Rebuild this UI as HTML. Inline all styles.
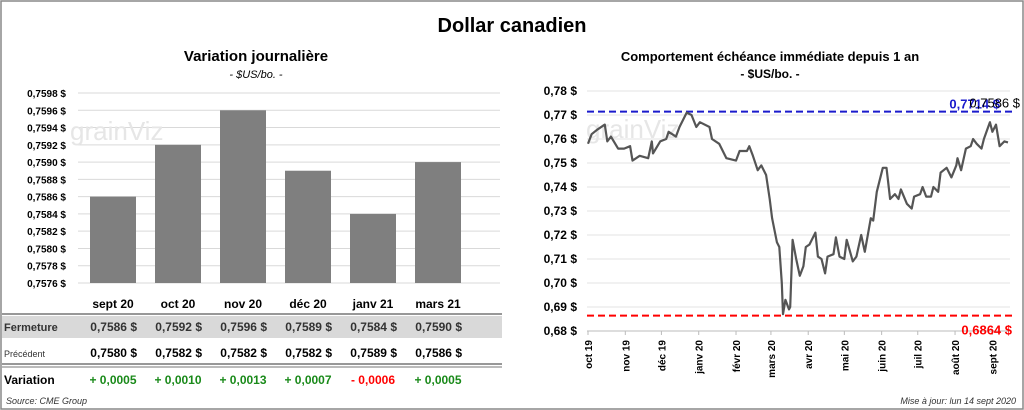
<!DOCTYPE html>
<html><head><meta charset="utf-8"><style>
body{margin:0;width:1024px;height:410px;background:#fff;font-family:"Liberation Sans",sans-serif;overflow:hidden}
svg{position:absolute;left:0;top:0}
</style></head><body>
<svg id="s" width="1024" height="410">
<rect x="1" y="1" width="1022" height="408" fill="#fff" stroke="#888" stroke-width="1.5"/>
<text x="512" y="32" text-anchor="middle" font-size="20" font-weight="bold">Dollar canadien</text>
<text x="256" y="61" text-anchor="middle" font-size="15" font-weight="bold">Variation  journalière</text>
<text x="256" y="78" text-anchor="middle" font-size="11" font-style="italic">- $US/bo. -</text>
<text x="770" y="61" text-anchor="middle" font-size="13" font-weight="bold">Comportement échéance immédiate depuis 1 an</text>
<text x="770" y="78" text-anchor="middle" font-size="12" font-weight="bold">- $US/bo. -</text>
<g id="left"></g><g id="right"></g><g id="table"></g>
<text x="6" y="404" font-size="9" font-style="italic" fill="#333">Source: CME Group</text>
<text x="1016" y="404" text-anchor="end" font-size="9" font-style="italic" fill="#333">Mise à jour: lun 14 sept 2020</text>
</svg>
<script>
const barCats=["sept 20","oct 20","nov 20","déc 20","janv 21","mars 21"];
const closeVals=[0.7586,0.7592,0.7596,0.7589,0.7584,0.7590];
const prevVals=[0.7580,0.7582,0.7582,0.7582,0.7589,0.7586];
const varLabels=["+ 0,0005","+ 0,0010","+ 0,0013","+ 0,0007","- 0,0006","+ 0,0005"];
const leftTicks=[0.7576,0.7578,0.7580,0.7582,0.7584,0.7586,0.7588,0.7590,0.7592,0.7594,0.7596,0.7598];
const lineDays=[0,3,8,14,16,19,25,30,35,37,43,50,53,54,60,65,67,73,76,82,86,90,93,101,103,109,115,123,126,132,134,137,141,144,148,151,153,157,159,161,162,164,167,168,170,173,176,179,181,184,189,191,194,197,199,204,206,209,213,215,220,223,227,230,235,237,240,242,245,248,251,255,258,260,265,269,271,276,278,281,285,287,291,293,298,302,306,307,310,314,318,320,323,327,329,334,336,339,342,346,349];
const lineVals=[0.758,0.762,0.764,0.766,0.759,0.761,0.756,0.756,0.757,0.751,0.753,0.752,0.759,0.754,0.759,0.760,0.763,0.761,0.765,0.771,0.770,0.765,0.767,0.765,0.760,0.758,0.752,0.751,0.755,0.755,0.757,0.753,0.747,0.749,0.745,0.735,0.727,0.717,0.715,0.700,0.687,0.693,0.689,0.690,0.718,0.710,0.703,0.707,0.715,0.716,0.721,0.711,0.710,0.704,0.711,0.712,0.719,0.711,0.710,0.718,0.709,0.711,0.720,0.713,0.727,0.726,0.738,0.742,0.748,0.748,0.735,0.737,0.735,0.739,0.733,0.731,0.736,0.737,0.740,0.736,0.736,0.740,0.738,0.746,0.748,0.744,0.749,0.752,0.747,0.756,0.757,0.760,0.758,0.756,0.760,0.767,0.763,0.766,0.757,0.759,0.7586];
const rightTicks=[0.68,0.69,0.70,0.71,0.72,0.73,0.74,0.75,0.76,0.77,0.78];
const monthLabels=["oct 19","nov 19","déc 19","janv 20","févr 20","mars 20","avr 20","mai 20","juin 20","juil 20","août 20","sept 20"];
const monthDays=[0,31,61,92,123,152,183,213,244,274,305,336];
const maxVal=0.7714, minVal=0.6864, lastVal=0.7586;

const NS="http://www.w3.org/2000/svg";
function mk(p,t,a,txt){const e=document.createElementNS(NS,t);for(const k in a)e.setAttribute(k,a[k]);if(txt!=null)e.textContent=txt;p.appendChild(e);return e;}
const fmt=(v,d)=>v.toFixed(d).replace('.',',');

const L=document.getElementById('left');
const ly=v=>283-(v-0.7576)/0.0022*190;
const lx=i=>113+i*65;
leftTicks.forEach(t=>{
 let g=mk(L,'line',{x1:78,x2:500,y1:ly(t),y2:ly(t),stroke:'#d9d9d9'});
 
 let l=mk(L,'text',{x:66,y:ly(t)+4,'text-anchor':'end','font-size':10,'font-weight':'bold'},fmt(t,4)+' $');
 
});
mk(L,'text',{x:70,y:140,'font-size':26,fill:'#e6e6e6'},'grainViz');
closeVals.forEach((v,i)=>{
 let b=mk(L,'rect',{x:lx(i)-23,y:ly(v),width:46,height:283-ly(v),fill:'#7f7f7f'});
 
});
const T=document.getElementById('table');
mk(T,'rect',{x:2,y:316,width:500,height:22,fill:'#d9d9d9'});
mk(T,'line',{x1:2,x2:502,y1:314,y2:314,stroke:'#777',"stroke-width":1.5});
mk(T,'line',{x1:2,x2:502,y1:364,y2:364,stroke:'#777',"stroke-width":1.5});
mk(T,'line',{x1:2,x2:502,y1:367,y2:367,stroke:'#777',"stroke-width":1});
mk(T,'text',{x:4,y:331,'font-size':11,'font-weight':'bold',fill:'#333'},'Fermeture');
mk(T,'text',{x:4,y:357,'font-size':9,fill:'#333'},'Précédent');
mk(T,'text',{x:4,y:384,'font-size':12,'font-weight':'bold'},'Variation');
barCats.forEach((c,i)=>{
 let h=mk(T,'text',{x:lx(i),y:308,'text-anchor':'middle','font-size':12,'font-weight':'bold'},c);
 
 mk(T,'text',{x:lx(i)+24,y:331,'text-anchor':'end','font-size':12,'font-weight':'bold',fill:'#333'},fmt(closeVals[i],4)+'  $');
 mk(T,'text',{x:lx(i)+24,y:357,'text-anchor':'end','font-size':12,'font-weight':'bold'},fmt(prevVals[i],4)+'  $');
 mk(T,'text',{x:lx(i),y:384,'text-anchor':'middle','font-size':12,'font-weight':'bold',fill:varLabels[i][0]=='-'?'#f00':'#1a8a1a'},varLabels[i]);
});
const R=document.getElementById('right');
const ry=v=>331-(v-0.68)/0.10*240;
const rx=d=>588+d*420/349;
rightTicks.forEach(t=>{
 let g=mk(R,'line',{x1:587,x2:1010,y1:ry(t),y2:ry(t),stroke:'#e3e3e3'});
 
 let l=mk(R,'text',{x:577,y:ry(t)+4,'text-anchor':'end','font-size':12,'font-weight':'bold'},fmt(t,2)+' $');
 
});
mk(R,'text',{x:586,y:138,'font-size':26,fill:'#e6e6e6'},'grainViz');
mk(R,'line',{x1:587,x2:1010,y1:331,y2:331,stroke:'#bbb'});
monthDays.forEach((d,i)=>{
 mk(R,'line',{x1:rx(d),x2:rx(d),y1:331,y2:335,stroke:'#bbb'});
 let t=mk(R,'text',{transform:`translate(${rx(d)+4},${340}) rotate(-90)`,'text-anchor':'end','font-size':10,'font-weight':'bold'},monthLabels[i]);
 
});
let ml=mk(R,'line',{x1:587,x2:1012,y1:ry(maxVal),y2:ry(maxVal),stroke:'#1a1acc','stroke-width':2,'stroke-dasharray':'7,4'});

let nl=mk(R,'line',{x1:587,x2:1012,y1:ry(minVal),y2:ry(minVal),stroke:'#f00','stroke-width':2,'stroke-dasharray':'7,4'});

let pts=lineDays.map((d,i)=>rx(d).toFixed(1)+','+ry(lineVals[i]).toFixed(1)).join(' ');
let pl=mk(R,'polyline',{points:pts,fill:'none',stroke:'#555','stroke-width':2.2,'stroke-linejoin':'round'});

let a=mk(R,'text',{x:1000,y:ry(maxVal)-3,'text-anchor':'end','font-size':13,'font-weight':'bold',fill:'#1a1acc'},fmt(maxVal,4)+' $');

let b=mk(R,'text',{x:1020,y:ry(maxVal)-4,'text-anchor':'end','font-size':13,fill:'#000'},fmt(lastVal,4)+' $');

let c=mk(R,'text',{x:1012,y:ry(minVal)+19,'text-anchor':'end','font-size':13,'font-weight':'bold',fill:'#f00'},fmt(minVal,4)+' $');

</script>
</body></html>
